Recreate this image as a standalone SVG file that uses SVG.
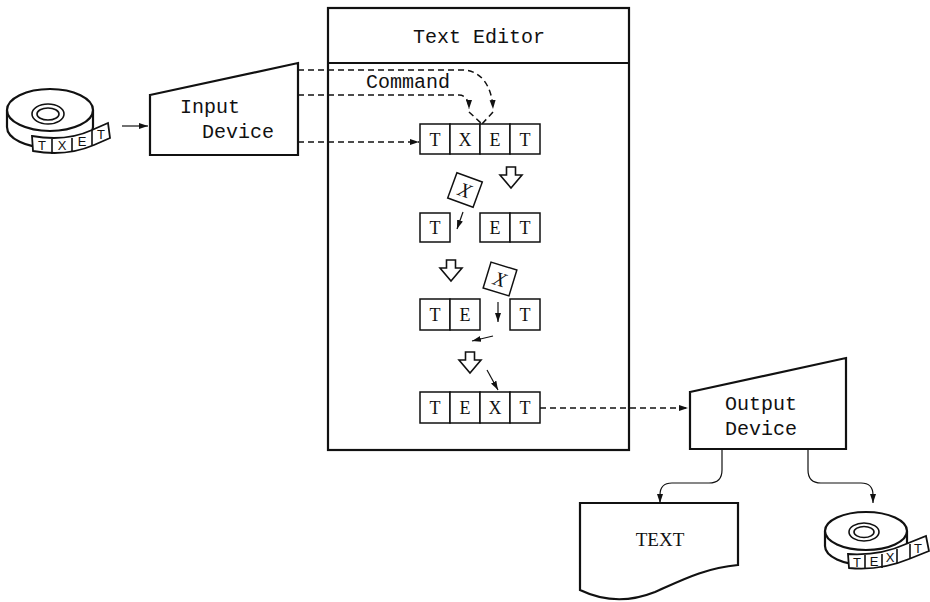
<svg xmlns="http://www.w3.org/2000/svg" width="930" height="602" viewBox="0 0 930 602">
<style>
.ln{fill:none;stroke:#111;stroke-width:1.6}
.bx{fill:#fff;stroke:#111;stroke-width:1.5}
.thick{fill:#fff;stroke:#111;stroke-width:2.2}
.dash{fill:none;stroke:#111;stroke-width:1.5;stroke-dasharray:6,4}
.mono{font-family:"Liberation Mono","DejaVu Sans Mono",monospace;font-size:20px;fill:#111}
.ser{font-family:"Liberation Serif","DejaVu Serif",serif;font-size:18px;fill:#111;text-anchor:middle}
.tl{font-family:"Liberation Sans","DejaVu Sans",sans-serif;font-size:13px;fill:#111;text-anchor:middle}
.hollow{fill:#fff;stroke:#111;stroke-width:1.6}
</style>
<defs>
<marker id="ah" markerWidth="10" markerHeight="8" refX="9" refY="4" orient="auto" markerUnits="userSpaceOnUse">
<path d="M0,1 L9,4 L0,7 Z" fill="#111"/>
</marker>
<path id="blk" d="M-4.5,0 H4.5 V8 H11 L0,21 L-11,8 H-4.5 Z"/>
</defs>

<g id="tape-in">
<path class="thick" d="M7,110 V127 A43,21 0 0 0 93,127 V110"/>
<ellipse class="thick" cx="50" cy="110" rx="43" ry="21"/>
<ellipse class="ln" cx="48" cy="114" rx="16" ry="10"/>
<ellipse class="ln" cx="48" cy="114" rx="11" ry="6"/>
<path class="bx" d="M32,136 Q66,142 92,130 L108,123 L110,138 L94,145 Q66,157 33,151 Z" style="stroke-width:1.8"/>
<path class="ln" d="M52,139 V154 M72,138 V152 M92,130 V145"/>
<text class="tl" x="42" y="150">T</text>
<text class="tl" x="62" y="150">X</text>
<text class="tl" x="82" y="146">E</text>
<text class="tl" x="101" y="139">T</text>
</g>

<g id="input-device">
<polygon class="thick" points="150,95 298,63 298,155 150,155"/>
<text class="mono" x="180" y="113">Input</text>
<text class="mono" x="202" y="138">Device</text>
</g>

<g id="text-editor">
<rect class="thick" x="328" y="8" width="301" height="442" fill="none"/>
<line class="ln" x1="328" y1="63" x2="629" y2="63" style="stroke-width:2"/>
<text class="mono" x="479" y="43" text-anchor="middle">Text Editor</text>
<text class="mono" x="366" y="88">Command</text>
</g>

<g id="row1">
<rect class="bx" x="420" y="124" width="30" height="30"/>
<rect class="bx" x="450" y="124" width="30" height="30"/>
<rect class="bx" x="480" y="124" width="30" height="30"/>
<rect class="bx" x="510" y="124" width="30" height="30"/>
<text class="ser" x="435" y="146">T</text>
<text class="ser" x="465" y="146">X</text>
<text class="ser" x="495" y="146">E</text>
<text class="ser" x="525" y="146">T</text>
</g>

<g id="xcard1" transform="translate(465,190) rotate(20)">
<rect class="bx" x="-13.5" y="-13.5" width="27" height="27"/>
<text class="ser" x="0" y="7" font-style="italic" style="font-size:20px">X</text>
</g>

<g id="row2">
<rect class="bx" x="420" y="213" width="30" height="29"/>
<rect class="bx" x="480" y="213" width="30" height="29"/>
<rect class="bx" x="510" y="213" width="30" height="29"/>
<text class="ser" x="435" y="234">T</text>
<text class="ser" x="495" y="234">E</text>
<text class="ser" x="525" y="234">T</text>
</g>

<g id="xcard2" transform="translate(500,279) rotate(17)">
<rect class="bx" x="-13.5" y="-13.5" width="27" height="27"/>
<text class="ser" x="0" y="7" font-style="italic" style="font-size:20px">X</text>
</g>

<g id="row3">
<rect class="bx" x="420" y="299" width="30" height="31"/>
<rect class="bx" x="450" y="299" width="30" height="31"/>
<rect class="bx" x="510" y="299" width="30" height="31"/>
<text class="ser" x="435" y="321">T</text>
<text class="ser" x="465" y="321">E</text>
<text class="ser" x="525" y="321">T</text>
</g>

<g id="row4">
<rect class="bx" x="420" y="392" width="30" height="31"/>
<rect class="bx" x="450" y="392" width="30" height="31"/>
<rect class="bx" x="480" y="392" width="30" height="31"/>
<rect class="bx" x="510" y="392" width="30" height="31"/>
<text class="ser" x="435" y="414">T</text>
<text class="ser" x="465" y="414">E</text>
<text class="ser" x="495" y="414">X</text>
<text class="ser" x="525" y="414">T</text>
</g>

<g id="block-arrows">
<use href="#blk" class="hollow" x="511" y="167"/>
<use href="#blk" class="hollow" x="451" y="260"/>
<use href="#blk" class="hollow" x="470" y="352"/>
</g>

<g id="output-device">
<polygon class="thick" points="690,392 846,358 846,449 690,449"/>
<text class="mono" x="725" y="410">Output</text>
<text class="mono" x="725" y="435">Device</text>
</g>

<g id="document">
<path class="thick" d="M580,503 H738 V565 C705,568 682,580 655,592 C630,602 605,602 580,590 Z"/>
<text class="ser" x="660" y="546" style="font-size:19px">TEXT</text>
</g>

<g id="tape-out">
<path class="thick" d="M825,531 V546 A41,19 0 0 0 907,546 V531"/>
<ellipse class="thick" cx="866" cy="531" rx="41" ry="19"/>
<ellipse class="ln" cx="864" cy="532" rx="15" ry="9"/>
<ellipse class="ln" cx="864" cy="532" rx="10" ry="5.5"/>
<path class="bx" d="M848,554 Q880,556 906,544 L926,536 L929,551 L909,559 Q880,571 849,568 Z" style="stroke-width:1.8"/>
<path class="ln" d="M865,555 V569 M882,554 V568 M897,549 V563 M910,544 V559"/>
<text class="tl" x="857" y="567">T</text>
<text class="tl" x="874" y="566">E</text>
<text class="tl" x="890" y="562">X</text>
<text class="tl" x="918" y="553">T</text>
</g>

<g id="connectors">
<line class="ln" x1="122" y1="126" x2="148" y2="126" marker-end="url(#ah)" style="stroke-width:1.2"/>
<path class="dash" d="M298,70 H462 C481,70 492,86 493,109" marker-end="url(#ah)"/>
<path class="dash" d="M298,95 H459 C465,95 469,100 469,109" marker-end="url(#ah)"/>
<path class="dash" d="M493,112 L482,124 M469,112 L482,124"/>
<path class="dash" d="M298,142 H419" marker-end="url(#ah)"/>
<path class="dash" d="M540,408 H688" marker-end="url(#ah)"/>
<line class="ln" x1="463" y1="212" x2="457" y2="229" marker-end="url(#ah)" style="stroke-width:1.2"/>
<line class="ln" x1="498" y1="302" x2="498" y2="322" marker-end="url(#ah)" style="stroke-width:1.2"/>
<line class="ln" x1="493" y1="336" x2="472" y2="341" marker-end="url(#ah)" style="stroke-width:1.2"/>
<line class="ln" x1="487" y1="370" x2="498" y2="390" marker-end="url(#ah)" style="stroke-width:1.2"/>
<path class="ln" d="M722,449 V470 Q722,483 709,483 H672 Q660,483 660,495 V503" marker-end="url(#ah)" style="stroke-width:1.2"/>
<path class="ln" d="M808,449 V470 Q808,483 821,483 H861 Q873,483 873,495 V503" marker-end="url(#ah)" style="stroke-width:1.2"/>
</g>
</svg>
